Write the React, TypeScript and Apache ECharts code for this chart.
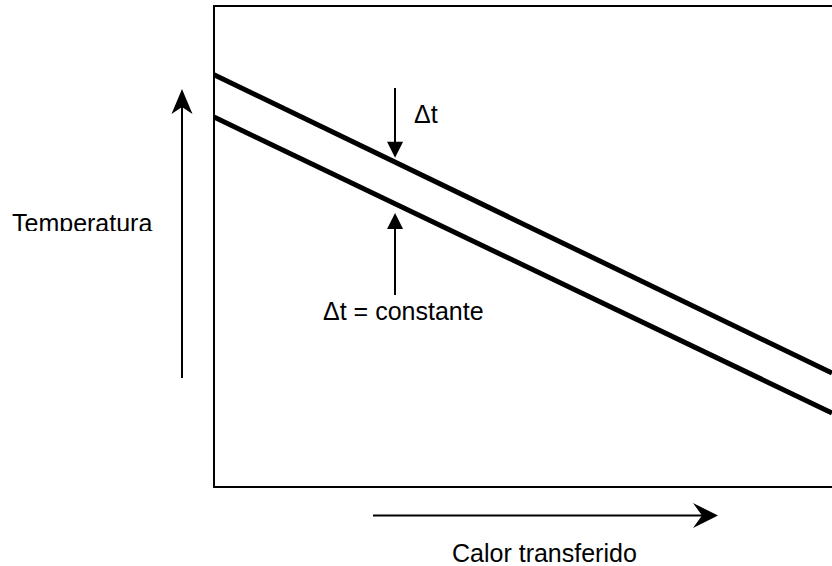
import React, { useEffect, useRef } from "react";
import * as echarts from "echarts";

// Data (value space 0..100 on both axes)
const xRange = [0, 100];
const yRange = [0, 100];
const upperLine: [number, number][] = [
  [0, 85.7],
  [100, 23.7],
];
const lowerLine: [number, number][] = [
  [0, 76.9],
  [100, 15.4],
];
const deltaArrowX = 29.3;
const downArrowY = [82.95, 70.1];
const upArrowY = [39.9, 55.3];

const labelTemperature = "Temperatura";
const labelHeat = "Calor transferido";
const labelDelta = "Δt";
const labelDeltaConst = "Δt = constante";

const FONT = '25px "Liberation Sans", Arial, sans-serif';

export default function App() {
  const ref = useRef<HTMLDivElement>(null);
  useEffect(() => {
    if (!ref.current) return;
    const chart = echarts.init(ref.current, null, { renderer: "svg" });
    const axisLine = { show: true, lineStyle: { color: "#000", width: 2 } };
    const hidden = {
      axisTick: { show: false },
      axisLabel: { show: false },
      splitLine: { show: false },
    };
    chart.setOption({
      animation: false,
      backgroundColor: "#fff",
      grid: { left: 214, top: 6, right: 0, bottom: 79 },
      xAxis: [
        { type: "value", min: xRange[0], max: xRange[1], position: "bottom", axisLine, ...hidden },
        { type: "value", min: xRange[0], max: xRange[1], position: "top", axisLine, ...hidden },
      ],
      yAxis: { type: "value", min: yRange[0], max: yRange[1], axisLine, ...hidden },
      series: [
        {
          type: "line",
          xAxisIndex: 0,
          data: upperLine,
          symbol: "none",
          silent: true,
          lineStyle: { color: "#000", width: 5, cap: "butt" },
          markLine: {
            silent: true,
            symbol: ["none", "triangle"],
            symbolSize: 16,
            label: { show: false },
            lineStyle: { color: "#000", width: 2, type: "solid" },
            emphasis: { disabled: true },
            data: [
              [{ coord: [deltaArrowX, downArrowY[0]] }, { coord: [deltaArrowX, downArrowY[1]] }],
              [{ coord: [deltaArrowX, upArrowY[0]] }, { coord: [deltaArrowX, upArrowY[1]] }],
            ],
          },
        },
        {
          type: "line",
          xAxisIndex: 0,
          data: lowerLine,
          symbol: "none",
          silent: true,
          lineStyle: { color: "#000", width: 5, cap: "butt" },
        },
      ],
      graphic: [
        // Temperature arrow
        { type: "line", shape: { x1: 182, y1: 378, x2: 182, y2: 106 }, style: { stroke: "#000", lineWidth: 2 } },
        {
          type: "polygon",
          shape: { points: [[182, 89], [171.5, 114], [182, 107], [192.5, 114]] },
          style: { fill: "#000" },
        },
        // Heat arrow
        { type: "line", shape: { x1: 373, y1: 515.5, x2: 702, y2: 515.5 }, style: { stroke: "#000", lineWidth: 2 } },
        {
          type: "polygon",
          shape: { points: [[718, 515.5], [693, 503], [702, 515.5], [693, 528]] },
          style: { fill: "#000" },
        },
        {
          type: "text",
          x: 12,
          y: 223,
          style: { text: labelTemperature, font: FONT, fill: "#000", textAlign: "left", textVerticalAlign: "middle" },
        },
        { type: "rect", shape: { x: 8, y: 231, width: 160, height: 10 }, style: { fill: "#fff" } },
        {
          type: "text",
          x: 414,
          y: 114,
          style: { text: labelDelta, font: FONT, fill: "#000", textAlign: "left", textVerticalAlign: "middle" },
        },
        {
          type: "text",
          x: 323,
          y: 311,
          style: { text: labelDeltaConst, font: FONT, fill: "#000", textAlign: "left", textVerticalAlign: "middle" },
        },
        {
          type: "text",
          x: 452,
          y: 553,
          style: { text: labelHeat, font: FONT, fill: "#000", textAlign: "left", textVerticalAlign: "middle" },
        },
      ],
    });
    return () => chart.dispose();
  }, []);
  return (
    <div
      ref={ref}
      style={{ position: "fixed", left: 0, top: 0, width: 832, height: 566, background: "#fff" }}
    />
  );
}
